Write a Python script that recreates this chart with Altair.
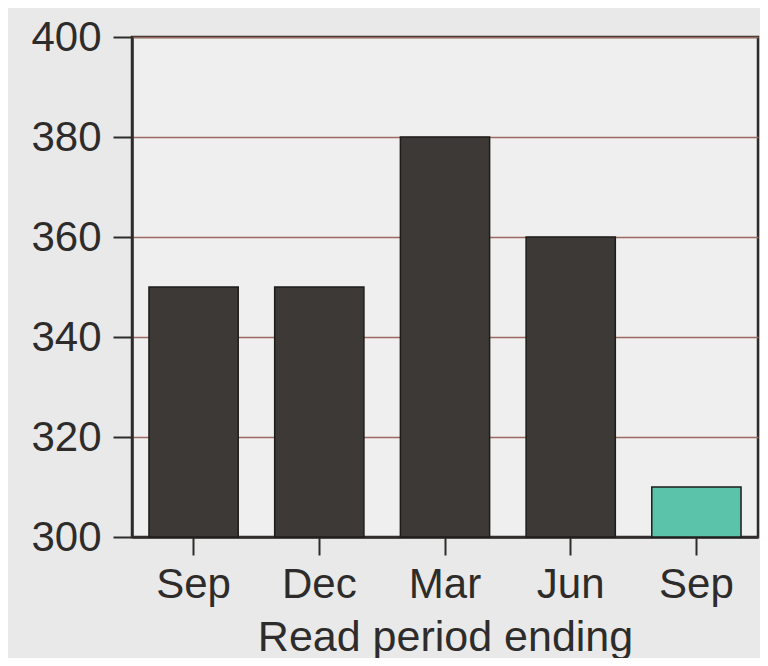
import altair as alt
import pandas as pd

periods = ["Sep", "Dec", "Mar", "Jun", "Sep"]
reads = [350, 350, 380, 360, 310]
status = ["past", "past", "past", "past", "current"]

df = pd.DataFrame({"idx": list(range(len(periods))), "read": reads, "status": status})

label_expr = "[" + ",".join("'%s'" % p for p in periods) + "][datum.value]"

FONT = "Liberation Sans"
DARK = "#2e2c2b"

chart = alt.Chart(df).mark_bar(stroke="#1e1d1c", strokeWidth=1.5).encode(
    x=alt.X(
        "idx:O",
        title="Read period ending",
        scale=alt.Scale(paddingInner=0.29, paddingOuter=0.135),
        axis=alt.Axis(
            labelExpr=label_expr,
            labelAngle=0,
            labelFontSize=42,
            labelFont=FONT,
            labelColor=DARK,
            labelPadding=9,
            tickSize=18,
            tickColor=DARK,
            tickWidth=2,
            domainColor=DARK,
            domainWidth=2.5,
            titleFontSize=43,
            titleFont=FONT,
            titleFontWeight="normal",
            titleColor=DARK,
            titlePadding=11,
        ),
    ),
    y=alt.Y(
        "read:Q",
        title=None,
        scale=alt.Scale(domain=[300, 400], zero=False, nice=False),
        axis=alt.Axis(
            values=[300, 320, 340, 360, 380, 400],
            labelFontSize=42,
            labelFont=FONT,
            labelColor=DARK,
            labelPadding=12,
            tickSize=19,
            tickColor=DARK,
            tickWidth=2,
            domainColor=DARK,
            domainWidth=2.5,
            grid=True,
            gridColor="#9a6a60",
            gridWidth=1.5,
        ),
    ),
    y2=alt.datum(300),
    color=alt.Color(
        "status:N",
        scale=alt.Scale(domain=["past", "current"], range=["#3c3937", "#5cc3ab"]),
        legend=None,
    ),
).properties(
    width=626,
    height=500,
    autosize=alt.AutoSizeParams(type="none"),
    padding={"left": 124, "top": 29, "right": 2, "bottom": 121},
    background="#e9e9e9",
).configure_view(
    fill="#efefef",
    stroke=DARK,
    strokeWidth=2.5,
)

chart.save("out.html", embed_options={"renderer": "svg", "actions": False})
